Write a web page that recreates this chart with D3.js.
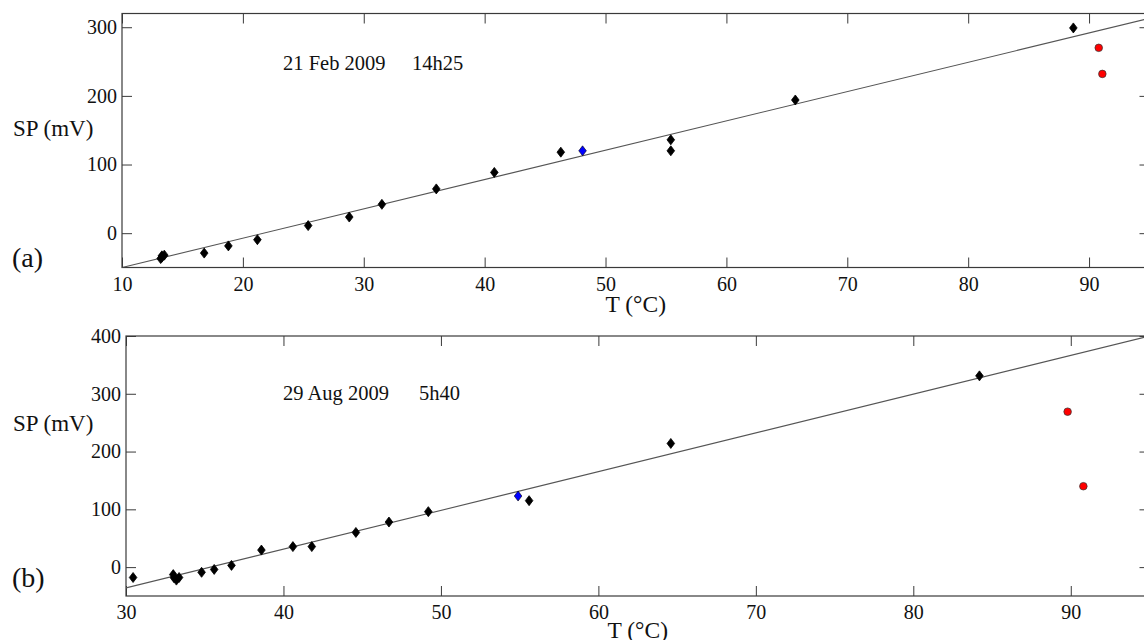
<!DOCTYPE html>
<html>
<head>
<meta charset="utf-8">
<script src="https://cdn.jsdelivr.net/npm/d3@7"></script>
<style>
  html, body { margin: 0; padding: 0; background: #fff; }
  svg { display: block; font-family: "Liberation Serif", "Times New Roman", serif; }
</style>
</head>
<body>
<svg id="chart" width="1144" height="640"></svg>
<script>
// ---------- Panel (a): 21 Feb 2009 14h25 ----------
const aT      = [13.2, 13.3, 13.5, 13.3, 16.8, 18.8, 21.2, 25.4, 28.8, 31.5, 36.0, 40.8, 46.3, 55.4, 55.4, 65.7, 88.7];
const aSP     = [-37, -33, -32, -35, -29, -18.5, -9.5, 11, 23.5, 42, 64.5, 88.5, 118, 136, 120, 194, 299];
const aBlueT  = [48.1];
const aBlueSP = [120];
const aRedT   = [90.8, 91.1];
const aRedSP  = [270, 232];
const aFitT   = [10, 95];
const aFitSP  = [-50, 313];
const aXTicks = [10, 20, 30, 40, 50, 60, 70, 80, 90];
const aYTicks = [0, 100, 200, 300];

// ---------- Panel (b): 29 Aug 2009 5h40 ----------
const bT      = [30.45, 33.0, 33.05, 33.2, 33.37, 34.8, 35.6, 36.7, 38.6, 40.6, 41.8, 44.6, 46.7, 49.2, 55.6, 64.6, 84.2];
const bSP     = [-18, -13, -18.5, -22.5, -18, -9, -4, 3, 29.5, 35.5, 35.5, 60, 78, 96, 115, 214, 331];
const bBlueT  = [54.9];
const bBlueSP = [123];
const bRedT   = [89.8, 90.8];
const bRedSP  = [269, 140];
const bFitT   = [30, 95];
const bFitSP  = [-36, 400];
const bXTicks = [30, 40, 50, 60, 70, 80, 90];
const bYTicks = [0, 100, 200, 300, 400];

const panels = [
  { letter: "(a)", date: "21 Feb 2009", time: "14h25",
    T: aT, SP: aSP, blueT: aBlueT, blueSP: aBlueSP, redT: aRedT, redSP: aRedSP,
    fitT: aFitT, fitSP: aFitSP, xTicks: aXTicks, yTicks: aYTicks,
    xDom: [10, 95], yDom: [-50, 320],
    left: 122, right: 1149.5, top: 13.5, bottom: 267.5,
    letterY: 267, spY: 136, dateY: 70, axY: 312 },
  { letter: "(b)", date: "29 Aug 2009", time: "5h40",
    T: bT, SP: bSP, blueT: bBlueT, blueSP: bBlueSP, redT: bRedT, redSP: bRedSP,
    fitT: bFitT, fitSP: bFitSP, xTicks: bXTicks, yTicks: bYTicks,
    xDom: [30, 95], yDom: [-50, 400],
    left: 126, right: 1149.5, top: 336, bottom: 596,
    letterY: 587, spY: 431, dateY: 400, axY: 638 }
];

const svg = d3.select("#chart");
const frameColor = "#3a3a3a";

panels.forEach((p, i) => {
  const x = d3.scaleLinear().domain(p.xDom).range([p.left, p.right]);
  const y = d3.scaleLinear().domain(p.yDom).range([p.bottom, p.top]);
  const g = svg.append("g");

  const clipId = "clip" + i;
  svg.append("clipPath").attr("id", clipId)
    .append("rect").attr("x", p.left).attr("y", p.top)
    .attr("width", p.right - p.left).attr("height", p.bottom - p.top);

  // axes with inward ticks
  const styleAxis = sel => {
    sel.select(".domain").remove();
    sel.selectAll(".tick line").attr("stroke", frameColor).attr("stroke-width", 1);
    sel.selectAll(".tick text").attr("fill", "#111").style("font-size", "20px")
       .style("font-family", "'Liberation Serif', serif");
  };
  g.append("g").attr("transform", `translate(0,${p.bottom})`)
    .call(d3.axisBottom(x).tickValues(p.xTicks).tickSizeInner(-10).tickSizeOuter(0).tickPadding(9).tickFormat(d3.format("d")))
    .call(styleAxis);
  g.append("g").attr("transform", `translate(0,${p.top})`)
    .call(d3.axisTop(x).tickValues(p.xTicks).tickSizeInner(-10).tickSizeOuter(0).tickFormat(""))
    .call(styleAxis);
  g.append("g").attr("transform", `translate(${p.left},0)`)
    .call(d3.axisLeft(y).tickValues(p.yTicks).tickSizeInner(-10).tickSizeOuter(0).tickPadding(5).tickFormat(d3.format("d")))
    .call(styleAxis);
  g.append("g").attr("transform", `translate(${p.right},0)`)
    .call(d3.axisRight(y).tickValues(p.yTicks).tickSizeInner(-10).tickSizeOuter(0).tickFormat(""))
    .call(styleAxis);

  // frame
  g.append("rect").attr("x", p.left).attr("y", p.top)
    .attr("width", p.right - p.left).attr("height", p.bottom - p.top)
    .attr("fill", "none").attr("stroke", frameColor).attr("stroke-width", 1.2);

  // fit line
  const fit = p.fitT.map((t, k) => [t, p.fitSP[k]]);
  g.append("path").datum(fit)
    .attr("clip-path", `url(#${clipId})`)
    .attr("d", d3.line().x(d => x(d[0])).y(d => y(d[1])))
    .attr("fill", "none").attr("stroke", "#555").attr("stroke-width", 1.1);

  // diamond markers
  const diamond = "M0,-5 L3.8,0 L0,5 L-3.8,0 Z";
  const black = p.T.map((t, k) => [t, p.SP[k]]);
  g.selectAll(".bd").data(black).enter().append("path")
    .attr("d", diamond)
    .attr("transform", d => `translate(${x(d[0])},${y(d[1])})`)
    .attr("fill", "#000").attr("stroke", "#000").attr("stroke-width", 0.8);
  const blue = p.blueT.map((t, k) => [t, p.blueSP[k]]);
  g.selectAll(".bl").data(blue).enter().append("path")
    .attr("d", diamond)
    .attr("transform", d => `translate(${x(d[0])},${y(d[1])})`)
    .attr("fill", "#0000ff").attr("stroke", "#000").attr("stroke-width", 0.6);
  const red = p.redT.map((t, k) => [t, p.redSP[k]]);
  g.selectAll(".rd").data(red).enter().append("circle")
    .attr("cx", d => x(d[0])).attr("cy", d => y(d[1])).attr("r", 3.8)
    .attr("fill", "#ff0000").attr("stroke", "#333").attr("stroke-width", 0.7);

  // texts
  const txt = (tx, ty, s, size, anchor) => g.append("text")
    .attr("x", tx).attr("y", ty).attr("text-anchor", anchor || "start")
    .attr("fill", "#111").style("font-size", size + "px").text(s);
  txt(12, p.letterY, p.letter, 28);
  txt(13, p.spY, "SP (mV)", 23);
  txt(283, p.dateY, p.date, 20.5);
  txt(p.letter === "(a)" ? 412 : 419, p.dateY, p.time, 20.5);
  txt((p.left + p.right) / 2, p.axY, "T (°C)", 23.5, "middle");
});
</script>
</body>
</html>
